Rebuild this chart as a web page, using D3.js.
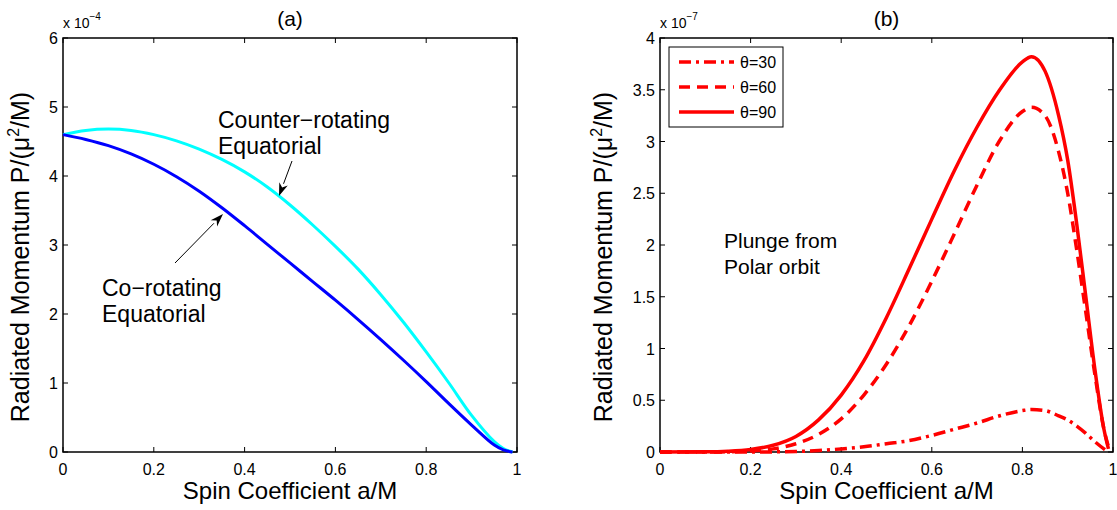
<!DOCTYPE html>
<html>
<head>
<meta charset="utf-8">
<script src="https://cdn.jsdelivr.net/npm/d3@7"></script>
<style>
    body { margin: 0; background: #fff; }
    svg { font-family: "Liberation Sans", Arial, sans-serif; }
    .tick-label { font-size: 16px; fill: #000; }
    .axis-title { font-size: 24px; fill: #000; }
    .note { font-size: 21px; fill: #000; }
</style>
</head>
<body>
<svg id="chart" width="1117" height="510"></svg>
<script>
// Panel (a): spin coefficient vs radiated momentum (units of 1e-4)
const SPIN_A = [0, 0.05, 0.1, 0.15, 0.2, 0.25, 0.3, 0.35, 0.4, 0.45, 0.5, 0.55,
    0.6, 0.65, 0.7, 0.75, 0.8, 0.85, 0.9, 0.95, 0.97, 0.99];
const COUNTER_ROTATING = [4.60, 4.66, 4.68, 4.66, 4.60, 4.51, 4.39, 4.24, 4.06, 3.84, 3.58, 3.29,
    2.98, 2.65, 2.28, 1.88, 1.45, 1.00, 0.53, 0.15, 0.05, 0.0];
const CO_ROTATING = [4.60, 4.53, 4.44, 4.32, 4.17, 3.99, 3.78, 3.54, 3.28, 3.01, 2.74, 2.47,
    2.20, 1.92, 1.63, 1.33, 1.02, 0.70, 0.39, 0.10, 0.03, 0.0];
const TICKS_A_Y = [0, 1, 2, 3, 4, 5, 6];

// Panel (b): plunge from polar orbit (units of 1e-7)
const SPIN_B = [0, 0.1, 0.15, 0.2, 0.25, 0.3, 0.35, 0.4, 0.45, 0.5, 0.55, 0.6, 0.65, 0.7,
    0.75, 0.8, 0.82, 0.85, 0.88, 0.9, 0.92, 0.94, 0.96, 0.98, 0.99];
const THETA_90 = [0, 0.002, 0.008, 0.025, 0.065, 0.15, 0.31, 0.55, 0.88, 1.30, 1.77, 2.25, 2.72, 3.14,
    3.50, 3.77, 3.82, 3.68, 3.25, 2.82, 2.20, 1.50, 0.80, 0.22, 0.03];
const THETA_60 = [0, 0.0, 0.002, 0.01, 0.03, 0.08, 0.17, 0.32, 0.55, 0.85, 1.22, 1.65, 2.11, 2.58,
    3.01, 3.29, 3.33, 3.25, 2.90, 2.50, 1.95, 1.35, 0.75, 0.22, 0.05];
const THETA_30 = [0, 0, 0, 0, 0.001, 0.005, 0.015, 0.03, 0.05, 0.08, 0.11, 0.16, 0.22, 0.28,
    0.35, 0.40, 0.41, 0.40, 0.35, 0.31, 0.25, 0.18, 0.10, 0.03, 0.0];
const TICKS_B_Y = [0, 0.5, 1, 1.5, 2, 2.5, 3, 3.5, 4];
const TICKS_X = [0, 0.2, 0.4, 0.6, 0.8, 1];

const LEGEND_LABELS = ["θ=30", "θ=60", "θ=90"];
const DASH_STYLES = ["12,5,3,5", "11,7", null];

const svg = d3.select("#chart");

// Draws a MATLAB-like boxed axes with inward ticks on all four sides
const drawAxes = (left, right, top, bottom, yMax, yTicks, yFmt) => {
    const x = d3.scaleLinear().domain([0, 1]).range([left, right]);
    const y = d3.scaleLinear().domain([0, yMax]).range([bottom, top]);
    const g = svg.append("g");
    const tickLen = 5;

    TICKS_X.forEach((t) => {
        g.append("line").attr("x1", x(t)).attr("x2", x(t))
            .attr("y1", bottom).attr("y2", bottom - tickLen)
            .attr("stroke", "#000").attr("stroke-width", 1);
        g.append("line").attr("x1", x(t)).attr("x2", x(t))
            .attr("y1", top).attr("y2", top + tickLen)
            .attr("stroke", "#000").attr("stroke-width", 1);
        g.append("text").classed("tick-label", true)
            .attr("x", x(t)).attr("y", bottom + 23)
            .attr("text-anchor", "middle")
            .text(d3.format("")(t));
    });

    yTicks.forEach((t) => {
        g.append("line").attr("x1", left).attr("x2", left + tickLen)
            .attr("y1", y(t)).attr("y2", y(t))
            .attr("stroke", "#000").attr("stroke-width", 1);
        g.append("line").attr("x1", right).attr("x2", right - tickLen)
            .attr("y1", y(t)).attr("y2", y(t))
            .attr("stroke", "#000").attr("stroke-width", 1);
        g.append("text").classed("tick-label", true)
            .attr("x", left - 5).attr("y", y(t) + 6)
            .attr("text-anchor", "end")
            .text(yFmt(t));
    });

    g.append("rect")
        .attr("x", left).attr("y", top)
        .attr("width", right - left).attr("height", bottom - top)
        .attr("fill", "none").attr("stroke", "#000").attr("stroke-width", 1.5);

    return {x: x, y: y, g: g};
};

const drawLabels = (left, right, top, bottom, title, exponent, yLabelX) => {
    const cx = (left + right) / 2;
    svg.append("text").classed("axis-title", true)
        .attr("x", cx).attr("y", 26).attr("text-anchor", "middle")
        .style("font-size", "21px")
        .text(title);

    svg.append("text").classed("axis-title", true)
        .attr("x", cx).attr("y", 499).attr("text-anchor", "middle")
        .text("Spin Coefficient a/M");

    const yl = svg.append("text").classed("axis-title", true)
        .attr("transform", "translate(" + yLabelX + " " + ((top + bottom) / 2 + 12) + ") rotate(-90)")
        .attr("text-anchor", "middle")
        .style("font-size", "25px");
    yl.append("tspan").text("Radiated Momentum P/(μ");
    yl.append("tspan").attr("dy", -10).style("font-size", "16px").text("2");
    yl.append("tspan").attr("dy", 10).text("/M)");

    const ex = svg.append("text")
        .attr("x", left).attr("y", 28)
        .style("font-size", "14px");
    ex.append("tspan").text("x 10");
    ex.append("tspan").attr("dy", -8).style("font-size", "10px").text("−" + exponent);
};

const drawArrow = (x1, y1, x2, y2) => {
    const ang = Math.atan2(y2 - y1, x2 - x1);
    const len = 13, half = 4.5;
    const bx = x2 - len * Math.cos(ang), by = y2 - len * Math.sin(ang);
    svg.append("line")
        .attr("x1", x1).attr("y1", y1).attr("x2", bx).attr("y2", by)
        .attr("stroke", "#000").attr("stroke-width", 1);
    const px = -Math.sin(ang) * half, py = Math.cos(ang) * half;
    svg.append("path")
        .attr("d", "M" + x2 + "," + y2 + "L" + (bx + px) + "," + (by + py) +
            "L" + (bx + 4 * Math.cos(ang)) + "," + (by + 4 * Math.sin(ang)) +
            "L" + (bx - px) + "," + (by - py) + "Z")
        .attr("fill", "#000");
};

// ---- Panel (a)
const A = {left: 63, right: 517, top: 38, bottom: 452};
const axA = drawAxes(A.left, A.right, A.top, A.bottom, 6, TICKS_A_Y, d3.format(""));
drawLabels(A.left, A.right, A.top, A.bottom, "(a)", "4", 29);

const lineA = (vals) => d3.line()
    .x((d, i) => axA.x(SPIN_A[i]))
    .y((d) => axA.y(d))
    .curve(d3.curveCatmullRom.alpha(0.5))(vals);

svg.append("path").attr("d", lineA(COUNTER_ROTATING))
    .attr("fill", "none").attr("stroke", "#00ffff").attr("stroke-width", 3);
svg.append("path").attr("d", lineA(CO_ROTATING))
    .attr("fill", "none").attr("stroke", "#0000ff").attr("stroke-width", 3);

svg.append("text").classed("note", true).style("font-size", "23px")
    .attr("x", 218).attr("y", 128).text("Counter−rotating");
svg.append("text").classed("note", true).style("font-size", "23px")
    .attr("x", 218).attr("y", 154).text("Equatorial");
svg.append("text").classed("note", true).style("font-size", "23px")
    .attr("x", 102).attr("y", 296).text("Co−rotating");
svg.append("text").classed("note", true).style("font-size", "23px")
    .attr("x", 102).attr("y", 322).text("Equatorial");
drawArrow(292, 161, 279, 196);
drawArrow(175, 263, 223, 214);

// ---- Panel (b)
const B = {left: 660, right: 1113, top: 38, bottom: 452};
const axB = drawAxes(B.left, B.right, B.top, B.bottom, 4, TICKS_B_Y, d3.format(""));
drawLabels(B.left, B.right, B.top, B.bottom, "(b)", "7", 612);

const lineB = (vals) => d3.line()
    .x((d, i) => axB.x(SPIN_B[i]))
    .y((d) => axB.y(d))
    .curve(d3.curveMonotoneX)(vals);

[THETA_30, THETA_60, THETA_90].forEach((vals, i) => {
    svg.append("path").attr("d", lineB(vals))
        .attr("fill", "none").attr("stroke", "#ff0000").attr("stroke-width", 3.5)
        .attr("stroke-dasharray", DASH_STYLES[i]);
});

svg.append("text").classed("note", true).attr("x", 724).attr("y", 248).text("Plunge from");
svg.append("text").classed("note", true).attr("x", 724).attr("y", 274).text("Polar orbit");

// Legend
const legend = svg.append("g");
legend.append("rect")
    .attr("x", 669).attr("y", 47).attr("width", 114).attr("height", 80)
    .attr("fill", "#fff").attr("stroke", "#000").attr("stroke-width", 1);
LEGEND_LABELS.forEach((label, i) => {
    const ly = 62 + i * 25;
    legend.append("line")
        .attr("x1", 679).attr("x2", 734).attr("y1", ly).attr("y2", ly)
        .attr("stroke", "#ff0000").attr("stroke-width", 3.5)
        .attr("stroke-dasharray", DASH_STYLES[i]);
    legend.append("text")
        .attr("x", 740).attr("y", ly + 6)
        .style("font-size", "16px")
        .text(label);
});
</script>
</body>
</html>
